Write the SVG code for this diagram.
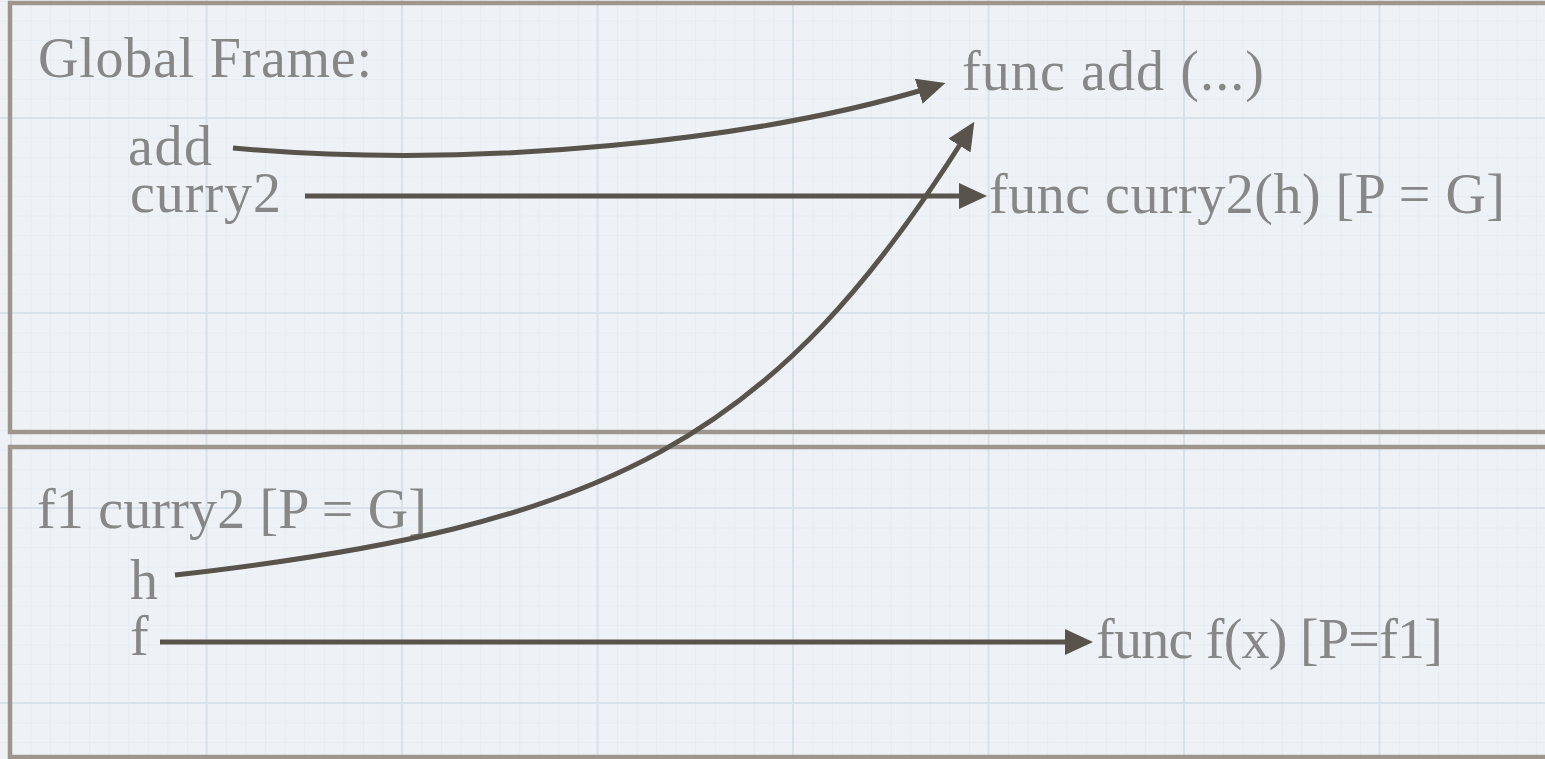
<svg xmlns="http://www.w3.org/2000/svg" width="1545" height="759" viewBox="0 0 1545 759">
  <style>
    .frame { fill: none; stroke: #9e968c; stroke-width: 4.5; }
    .lbl { font-family: "Liberation Serif", "DejaVu Serif", serif; font-size: 56px; fill: #878787; }
    .wire { fill: none; stroke: #58534b; stroke-width: 5; }
  </style>
  <defs>
    <pattern id="minor" x="11" y="118" width="19.55" height="19.5" patternUnits="userSpaceOnUse">
      <path d="M0.5,0 V19.5 M0,0.5 H19.55" stroke="#dde5ee" stroke-width="1" fill="none" opacity="0.5"/>
    </pattern>
    <pattern id="major" x="10" y="117" width="195.5" height="195" patternUnits="userSpaceOnUse">
      <path d="M1,0 V195 M0,1 H195.5" stroke="#d5dfe9" stroke-width="2" fill="none" opacity="0.85"/>
    </pattern>
    <marker id="arrow" markerUnits="userSpaceOnUse" markerWidth="28" markerHeight="26" refX="16" refY="13" orient="auto">
      <path d="M0,0 L28,13 L0,26 Z" fill="#58534b"/>
    </marker>
  </defs>

  <rect x="0" y="0" width="1545" height="759" fill="#eef2f7"/>
  <rect x="0" y="0" width="1545" height="759" fill="url(#minor)"/>
  <rect x="0" y="0" width="1545" height="759" fill="url(#major)"/>

  <g id="global-frame">
    <rect class="frame" x="10" y="3" width="1560" height="429"/>
    <text class="lbl" x="38" y="77" textLength="334">Global Frame:</text>
  </g>
  <g id="var-add">
    <text class="lbl" x="128" y="165" textLength="84">add</text>
  </g>
  <g id="var-curry2">
    <text class="lbl" x="130" y="212" textLength="151">curry2</text>
  </g>
  <g id="func-add">
    <text class="lbl" x="962" y="90" textLength="302">func add (...)</text>
  </g>
  <g id="func-curry2">
    <text class="lbl" x="989" y="213" textLength="516">func curry2(h) [P = G]</text>
  </g>

  <g id="f1-frame">
    <rect class="frame" x="10" y="447" width="1560" height="310"/>
    <text class="lbl" x="37" y="528" textLength="390">f1 curry2 [P = G]</text>
  </g>
  <g id="var-h">
    <text class="lbl" x="130" y="599">h</text>
  </g>
  <g id="var-f">
    <text class="lbl" x="130" y="655">f</text>
  </g>
  <g id="func-f">
    <text class="lbl" x="1096" y="658" textLength="347">func f(x) [P=f1]</text>
  </g>

  <g id="connectors">
    <path class="wire" d="M233,148 C480,170 760,140 934,86.5" marker-end="url(#arrow)"/>
    <path class="wire" d="M305,196 L975,196" marker-end="url(#arrow)"/>
    <path class="wire" d="M175,575 C608,526 774,442 968,132" marker-end="url(#arrow)"/>
    <path class="wire" d="M160,642 L1081,642" marker-end="url(#arrow)"/>
  </g>
</svg>
